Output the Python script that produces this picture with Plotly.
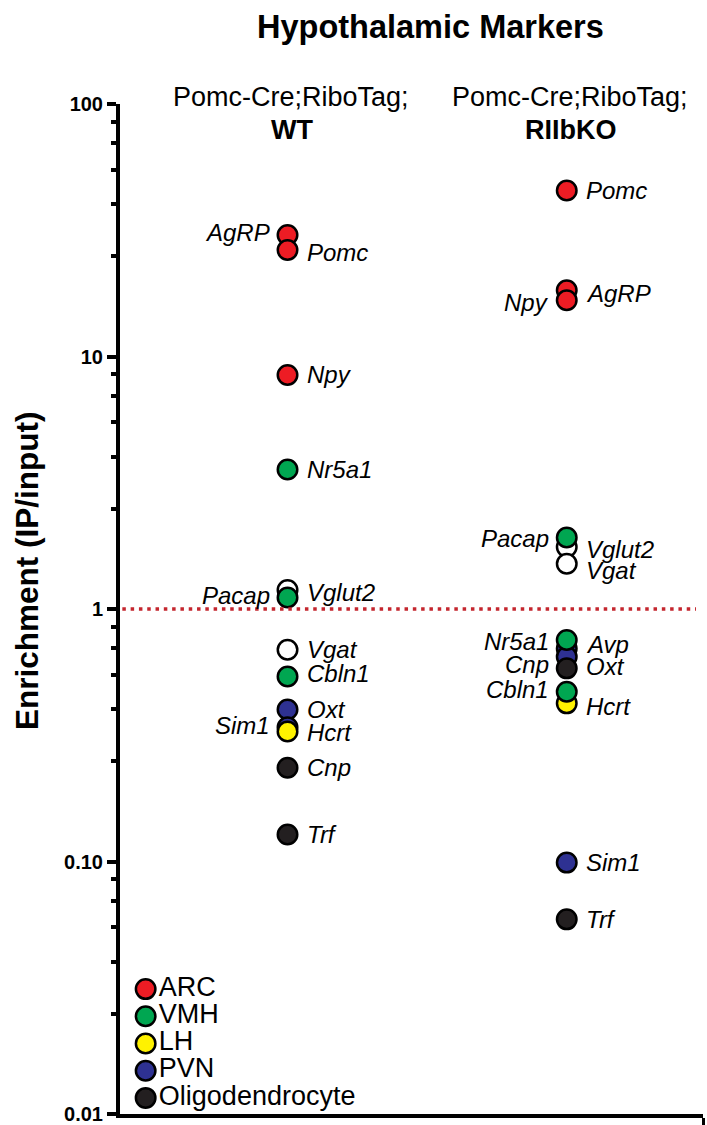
import numpy as np
import plotly.graph_objects as go

# ---- data -------------------------------------------------------------
genotypes = ["WT", "RIIbKO"]
genes = ["Pomc", "AgRP", "Npy", "Nr5a1", "Pacap", "Cbln1", "Vglut2", "Vgat",
         "Oxt", "Sim1", "Avp", "Hcrt", "Cnp", "Trf"]
gene_region = ["ARC", "ARC", "ARC", "VMH", "VMH", "VMH", "None", "None",
               "PVN", "PVN", "PVN", "LH", "Oligodendrocyte", "Oligodendrocyte"]
wt_enrichment = [26.4, 30.3, 8.45, 3.57, 1.11, 0.54, 1.19, 0.69,
                 0.40, 0.34, None, 0.327, 0.235, 0.128]
ko_enrichment = [45.4, 18.3, 16.7, 0.754, 1.92, 0.47, 1.76, 1.51,
                 0.647, 0.099, 0.698, 0.423, 0.582, 0.059]

regions = ["ARC", "VMH", "LH", "PVN", "Oligodendrocyte"]
y_tick_vals = [100, 10, 1, 0.1, 0.01]
y_tick_text = ["100", "10", "1", "0.10", "0.01"]
baseline = 1.0

# ---- styling ----------------------------------------------------------
FONT = "Liberation Sans, Arial, Helvetica, sans-serif"
region_colors = {"ARC": "#ED1C24", "VMH": "#00A651", "LH": "#FFF200",
                 "PVN": "#2E3192", "Oligodendrocyte": "#231F20",
                 "None": "#FFFFFF"}
# stacking order of the region groups (last drawn on top)
draw_order = ["None", "PVN", "LH", "Oligodendrocyte", "ARC", "VMH"]

# label side ('l'/'r') and vertical nudge in px for each gene label
label_place = {
    "WT": {"AgRP": ("l", 2), "Pomc": ("r", -2), "Npy": ("r", 0),
           "Nr5a1": ("r", 0), "Pacap": ("l", 2), "Vglut2": ("r", -3),
           "Vgat": ("r", 0), "Cbln1": ("r", 3), "Oxt": ("r", 0),
           "Sim1": ("l", 2), "Hcrt": ("r", -1), "Cnp": ("r", 0),
           "Trf": ("r", 0)},
    "RIIbKO": {"Pomc": ("r", 0), "AgRP": ("r", -3), "Npy": ("l", -2),
               "Pacap": ("l", -1), "Vglut2": ("r", -2), "Vgat": ("r", -7),
               "Nr5a1": ("l", -2), "Avp": ("r", 4), "Oxt": ("r", -10),
               "Cnp": ("l", 4), "Cbln1": ("l", 2), "Hcrt": ("r", -3),
               "Sim1": ("r", 0), "Trf": ("r", 0)},
}

W, H = 707, 1125
M_L, M_R, M_T, M_B = 120, 4, 104, 11
PLOT_W = W - M_L - M_R
PLOT_H = H - M_T - M_B
x_range = [-0.6, 1.488]


def paper_y(px):
    return (H - M_B - px) / PLOT_H


def paper_x(px):
    return (px - M_L) / PLOT_W


values = {"WT": wt_enrichment, "RIIbKO": ko_enrichment}

fig = go.Figure()

# ---- markers, one trace per region -----------------------------------
for reg in draw_order:
    pts = []
    for gi, g in enumerate(genotypes):
        for gene, r, v in zip(genes, gene_region, values[g]):
            if r == reg and v is not None:
                pts.append((gi, v, gene))
    pts.sort(key=lambda p: -p[1])
    fig.add_trace(go.Scatter(
        x=[p[0] for p in pts], y=[p[1] for p in pts],
        mode="markers", showlegend=False, hoverinfo="skip",
        marker=dict(size=19.5, color=region_colors[reg],
                    line=dict(color="#000000", width=2.5)),
        xaxis="x", yaxis="y"))

# ---- gene labels -----------------------------------------------------
annotations = []
for gi, g in enumerate(genotypes):
    for gene, v in zip(genes, values[g]):
        if v is None:
            continue
        side, dy = label_place[g][gene]
        annotations.append(dict(
            x=gi, y=np.log10(v), xref="x", yref="y",
            text=f"<i>{gene}</i>", showarrow=False,
            xanchor="left" if side == "r" else "right", yanchor="middle",
            xshift=17 if side == "r" else -16, yshift=dy,
            font=dict(family=FONT, size=24, color="#000000")))

# ---- column headers ---------------------------------------------------
for gi, g in enumerate(genotypes):
    annotations.append(dict(
        x=gi, y=paper_y(97), xref="x", yref="paper", xshift=3,
        text="Pomc-Cre;RiboTag;", showarrow=False,
        xanchor="center", yanchor="middle",
        font=dict(family=FONT, size=27, color="#000000")))
    annotations.append(dict(
        x=gi, y=paper_y(130), xref="x", yref="paper", xshift=4,
        text=f"<b>{g}</b>", showarrow=False,
        xanchor="center", yanchor="middle",
        font=dict(family=FONT, size=27, color="#000000")))

# ---- title and y-axis title -----------------------------------------
annotations.append(dict(
    x=paper_x(430), y=paper_y(27), xref="paper", yref="paper",
    text="<b>Hypothalamic Markers</b>", showarrow=False,
    xanchor="center", yanchor="middle",
    font=dict(family=FONT, size=32.5, color="#000000")))
annotations.append(dict(
    x=paper_x(27), y=paper_y(571), xref="paper", yref="paper",
    text="<b>Enrichment (IP/input)</b>", showarrow=False, textangle=-90,
    xanchor="center", yanchor="middle",
    font=dict(family=FONT, size=31.5, color="#000000")))

# ---- region key (drawn on its own hidden axes) -----------------------
fig.add_trace(go.Scatter(
    x=[0] * len(regions), y=regions, mode="markers+text",
    text=regions, textposition="middle right", showlegend=False,
    hoverinfo="skip",
    textfont=dict(family=FONT, size=27, color="#000000"),
    marker=dict(size=19.5, color=[region_colors[r] for r in regions],
                line=dict(color="#000000", width=2.5)),
    xaxis="x2", yaxis="y2"))

# Prism-style linear minor ticks inside each decade
minor_vals = [d * m for d in (0.01, 0.1, 1, 10) for m in (2.5, 4, 5.5, 7, 8.5)]

fig.update_layout(
    width=W, height=H,
    margin=dict(l=M_L, r=M_R, t=M_T, b=M_B, autoexpand=False),
    paper_bgcolor="white", plot_bgcolor="white",
    showlegend=False,
    annotations=annotations,
    shapes=[dict(type="line", xref="x domain", yref="y",
                 x0=0.004, x1=0.988, y0=baseline, y1=baseline,
                 line=dict(color="#C4262E", width=3.5, dash="3.5px,4.8px"))],
    xaxis=dict(range=x_range, showgrid=False, zeroline=False,
               showline=True, linecolor="#000000", linewidth=4,
               tickmode="array", tickvals=[x_range[1]], ticks="outside",
               ticklen=8, tickwidth=3, tickcolor="#000000",
               showticklabels=False, automargin=False),
    yaxis=dict(type="log", range=[-2, 2], showgrid=False, zeroline=False,
               showline=True, linecolor="#000000", linewidth=4,
               automargin=False,
               tickmode="array", tickvals=y_tick_vals, ticktext=y_tick_text,
               ticks="outside", ticklen=9, tickwidth=3.5,
               tickcolor="#000000",
               tickfont=dict(family=FONT, size=20, color="#000000",
                             weight="bold"),
               minor=dict(tickmode="array", tickvals=minor_vals,
                          ticks="outside", ticklen=5, tickwidth=3.5,
                          tickcolor="#000000", showgrid=False)),
    xaxis2=dict(domain=[0, 1], anchor="y2", range=[-0.044, 0.956],
                visible=False),
    yaxis2=dict(domain=[paper_y(1111.5), paper_y(975.5)], anchor="x2",
                type="category", categoryorder="array",
                categoryarray=regions, range=[4.5, -0.5], visible=False),
)

fig.write_html("out.html")
